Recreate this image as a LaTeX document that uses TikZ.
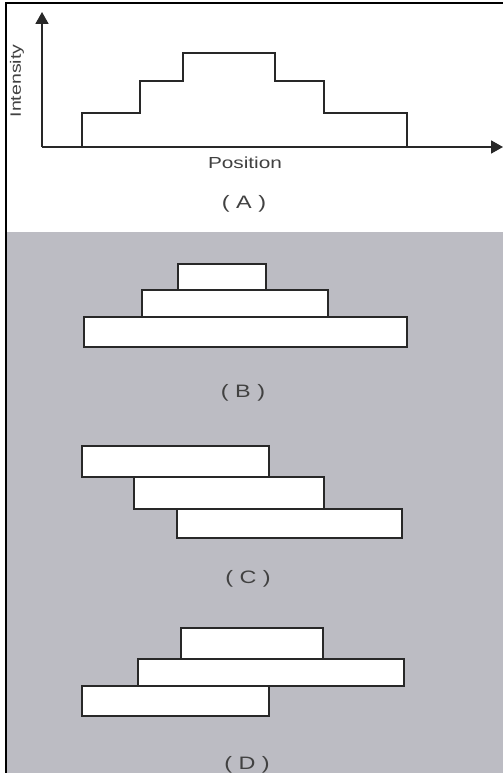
\documentclass[tikz,border=0pt]{standalone}
\usepackage{fontspec}
\setmainfont{Liberation Sans}
\usetikzlibrary{arrows.meta}
\definecolor{panelgray}{RGB}{188,188,195}
\definecolor{ink}{RGB}{40,40,40}
\definecolor{txt}{RGB}{65,65,65}
\newcommand{\wide}[1]{\scalebox{1.3}[1]{#1}}
\tikzset{
  bar/.style={draw=ink, line width=1.6pt, fill=white},
  axis/.style={draw=ink, line width=1.8pt, -{Triangle[length=12pt,width=13pt]}},
  lbl/.style={text=txt, font=\fontsize{16}{17}\selectfont, inner sep=0pt},
  captext/.style={text=txt, font=\fontsize{18}{19}\selectfont, inner sep=0pt}
}
\begin{document}
\begin{tikzpicture}[x=1pt,y=-1pt]
\useasboundingbox (0,0) rectangle (503,773);
\fill[white] (0,0) rectangle (503,773);
\fill[panelgray] (6,232) rectangle (503,773);
\draw[black, line width=1.6pt] (6,773) -- (6,3) -- (503,3);
% panel A
\coordinate (o) at (42,147);
\coordinate (ytip) at (42,12);
\coordinate (xtip) at (503,147);
\draw[axis] (o) -- (ytip);
\draw[axis] (o) -- (xtip);
\draw[ink, line width=1.6pt] (82,147) -- (82,113) -- (140,113) -- (140,81) -- (183,81) -- (183,53)
  -- (275,53) -- (275,81) -- (324,81) -- (324,113) -- (407,113) -- (407,147);
\node[lbl, rotate=90, font=\fontsize{15}{16}\selectfont] (int) at (17,81) {\wide{Intensity}};
\node[lbl] (pos) at (245,163) {\wide{Position}};
\node[captext] (capA) at (244,204) {\wide{( A )}};
% panel B
\draw[bar] (84,317) rectangle (407,347);
\draw[bar] (142,290) rectangle (328,317);
\draw[bar] (178,264) rectangle (266,290);
\node[captext] (capB) at (243,393) {\wide{( B )}};
% panel C
\draw[bar] (82,446) rectangle (269,477);
\draw[bar] (134,477) rectangle (324,509);
\draw[bar] (177,509) rectangle (402,538);
\node[captext] (capC) at (248,579) {\wide{( C )}};
% panel D
\draw[bar] (181,628) rectangle (323,659);
\draw[bar] (138,659) rectangle (404,686);
\draw[bar] (82,686) rectangle (269,716);
\node[captext] (capD) at (247,765) {\wide{( D )}};
\end{tikzpicture}
\end{document}
